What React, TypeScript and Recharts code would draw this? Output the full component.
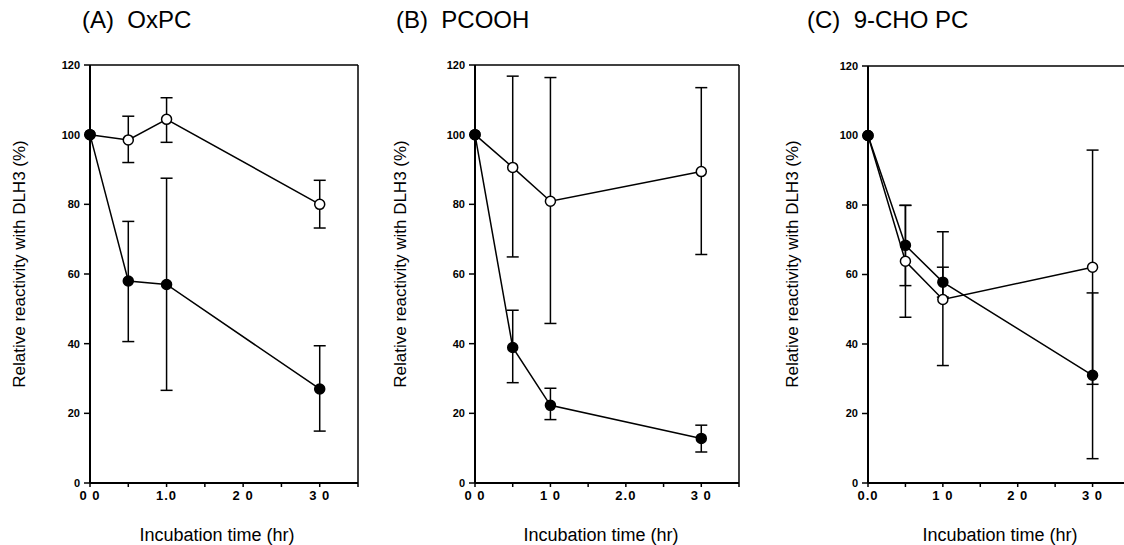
import React from 'react';
import { LineChart, Line, XAxis, YAxis, ErrorBar, ReferenceLine } from 'recharts';

const times = [0, 0.5, 1, 3];

const aOpenMean = [100, 98.5, 104.4, 80];
const aOpenLow = [null, 92, 97.8, 73.2];
const aOpenHigh = [null, 105.3, 110.6, 86.9];
const aFilledMean = [100, 58, 57, 27];
const aFilledLow = [null, 40.6, 26.6, 14.9];
const aFilledHigh = [null, 75.1, 87.5, 39.4];

const bOpenMean = [100, 90.6, 80.9, 89.4];
const bOpenLow = [null, 64.9, 45.8, 65.6];
const bOpenHigh = [null, 116.8, 116.4, 113.5];
const bFilledMean = [100, 38.9, 22.3, 12.8];
const bFilledLow = [null, 28.8, 18.2, 8.9];
const bFilledHigh = [null, 49.6, 27.2, 16.6];

const cOpenMean = [100, 63.8, 52.8, 62.1];
const cOpenLow = [null, 47.7, 33.8, 28.4];
const cOpenHigh = [null, 79.9, 72.3, 95.8];
const cFilledMean = [100, 68.4, 57.8, 31];
const cFilledLow = [null, 56.8, 53.5, 7];
const cFilledHigh = [null, 79.9, 62.1, 54.7];

const xTickValues = [0, 0.5, 1, 1.5, 2, 2.5, 3, 3.5];
const aXLabels = ['0 0', '1.0', '2 0', '3 0'];
const bXLabels = ['0 0', '1 0', '2.0', '3 0'];
const cXLabels = ['0.0', '1 0', '2 0', '3 0'];
const yMajorTicks = [0, 20, 40, 60, 80, 100, 120];
const yMinorTicks = [10, 30, 50, 70, 90, 110];

const titles = ['(A)  OxPC', '(B)  PCOOH', '(C)  9-CHO PC'];
const yLabel = 'Relative reactivity with DLH3 (%)';
const xLabel = 'Incubation time (hr)';

const FONT = '"Liberation Sans", Arial, sans-serif';

function buildRows(openMean, openLow, openHigh, filledMean, filledLow, filledHigh) {
  return times.map((t, i) => ({
    t,
    open: openMean[i],
    openErr: openLow[i] == null ? null : [openMean[i] - openLow[i], openHigh[i] - openMean[i]],
    filled: filledMean[i],
    filledErr: filledLow[i] == null ? null : [filledMean[i] - filledLow[i], filledHigh[i] - filledMean[i]],
  }));
}

const panels = [
  { rows: buildRows(aOpenMean, aOpenLow, aOpenHigh, aFilledMean, aFilledLow, aFilledHigh), xLabels: aXLabels, plotLeft: 90, plotTop: 65, plotW: 268, plotH: 418, title: titles[0], titleX: 82, yLabelX: 20, xLabelX: 217 },
  { rows: buildRows(bOpenMean, bOpenLow, bOpenHigh, bFilledMean, bFilledLow, bFilledHigh), xLabels: bXLabels, plotLeft: 475, plotTop: 65, plotW: 264, plotH: 418, title: titles[1], titleX: 396, yLabelX: 401, xLabelX: 601 },
  { rows: buildRows(cOpenMean, cOpenLow, cOpenHigh, cFilledMean, cFilledLow, cFilledHigh), xLabels: cXLabels, plotLeft: 868, plotTop: 66, plotW: 262, plotH: 417, title: titles[2], titleX: 807, yLabelX: 793, xLabelX: 1000 },
];

const Y_W = 40;
const X_H = 28;
const M_TOP = 5;
const M_RIGHT = 10;

function Panel({ p }) {
  const width = Y_W + p.plotW + M_RIGHT;
  const height = M_TOP + p.plotH + X_H;
  const fmtX = (v) => {
    const idx = [0, 1, 2, 3].indexOf(v);
    return idx >= 0 ? p.xLabels[idx] : '';
  };
  return (
    <div style={{ position: 'absolute', left: p.plotLeft - Y_W, top: p.plotTop - M_TOP, width, height }}>
      <LineChart width={width} height={height} data={p.rows} margin={{ top: M_TOP, right: M_RIGHT, left: 0, bottom: 0 }}>
        <XAxis
          dataKey="t"
          type="number"
          domain={[0, 3.5]}
          ticks={xTickValues}
          tickFormatter={fmtX}
          interval={0}
          height={X_H}
          tickSize={4}
          tickMargin={4}
          axisLine={{ stroke: '#000', strokeWidth: 2 }}
          tickLine={{ stroke: '#000', strokeWidth: 1.5 }}
          tick={{ fill: '#000', fontSize: 13, fontFamily: FONT, fontWeight: 'bold', letterSpacing: 1 }}
        />
        <YAxis
          type="number"
          domain={[0, 120]}
          ticks={yMajorTicks}
          interval={0}
          width={Y_W}
          tickSize={6}
          tickMargin={4}
          axisLine={{ stroke: '#000', strokeWidth: 2 }}
          tickLine={{ stroke: '#000', strokeWidth: 1.5 }}
          tick={{ fill: '#000', fontSize: 11, fontFamily: FONT, fontWeight: 'bold' }}
        />
        <YAxis
          yAxisId="minor"
          type="number"
          domain={[0, 120]}
          ticks={yMinorTicks}
          interval={0}
          width={0}
          mirror
          tickSize={3}
          axisLine={false}
          tickLine={{ stroke: '#000', strokeWidth: 1.2 }}
          tick={() => <g />}
        />
        <ReferenceLine y={120} stroke="#000" strokeWidth={1.5} />
        <ReferenceLine x={3.5} stroke="#000" strokeWidth={1.5} />
        <Line
          dataKey="open"
          stroke="#000"
          strokeWidth={1.5}
          isAnimationActive={false}
          dot={{ r: 5, fill: '#fff', stroke: '#000', strokeWidth: 1.5 }}
          activeDot={false}
        >
          <ErrorBar dataKey="openErr" direction="y" width={6} stroke="#000" strokeWidth={1.5} />
        </Line>
        <Line
          dataKey="filled"
          stroke="#000"
          strokeWidth={1.5}
          isAnimationActive={false}
          dot={{ r: 5, fill: '#000', stroke: '#000', strokeWidth: 1.5 }}
          activeDot={false}
        >
          <ErrorBar dataKey="filledErr" direction="y" width={6} stroke="#000" strokeWidth={1.5} />
        </Line>
      </LineChart>
    </div>
  );
}

export default function App() {
  return (
    <div style={{ position: 'absolute', left: 0, top: 0, width: 1124, height: 545, overflow: 'hidden', background: '#fff', fontFamily: FONT, color: '#000' }}>
      {panels.map((p, i) => (
        <React.Fragment key={i}>
          <div style={{ position: 'absolute', left: p.titleX, top: 5, fontSize: 24, whiteSpace: 'pre', lineHeight: '30px' }}>{p.title}</div>
          <div
            style={{
              position: 'absolute',
              left: p.yLabelX,
              top: 264,
              transform: 'translate(-50%, -50%) rotate(-90deg)',
              fontSize: 17,
              whiteSpace: 'nowrap',
              lineHeight: '20px',
            }}
          >
            {yLabel}
          </div>
          <div
            style={{
              position: 'absolute',
              left: p.xLabelX,
              top: 535,
              transform: 'translate(-50%, -50%)',
              fontSize: 18,
              whiteSpace: 'nowrap',
              lineHeight: '20px',
            }}
          >
            {xLabel}
          </div>
          <Panel p={p} />
        </React.Fragment>
      ))}
    </div>
  );
}
